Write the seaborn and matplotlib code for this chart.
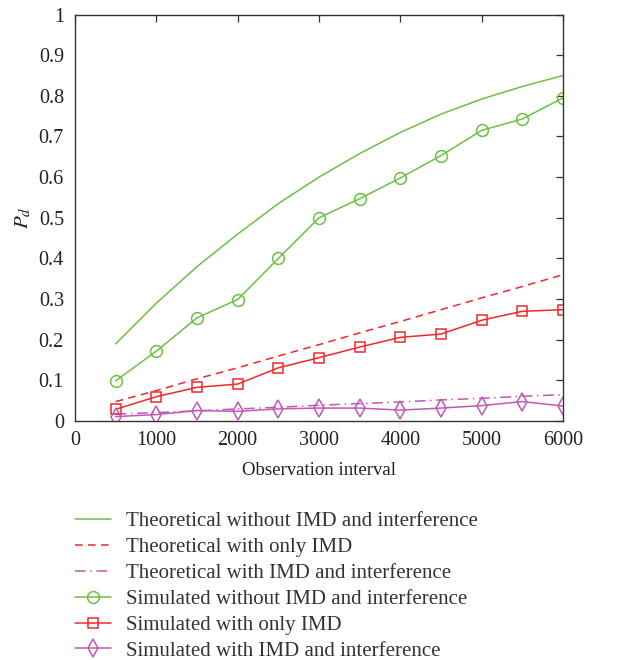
import matplotlib
matplotlib.use("Agg")
import matplotlib.pyplot as plt
import seaborn as sns
import numpy as np

sns.set_theme(style="white")
plt.rcParams["font.family"] = ["Liberation Serif", "DejaVu Serif"]
plt.rcParams["mathtext.fontset"] = "stix"

# Observation interval (x values)
interval = [500, 1000, 1500, 2000, 2500, 3000, 3500, 4000, 4500, 5000, 5500, 6000]

# Detection probability P_d for each case
theo_no_imd = [0.19, 0.29, 0.38, 0.46, 0.535, 0.60, 0.658, 0.71, 0.755, 0.792, 0.823, 0.85]
theo_only_imd = [0.048, 0.075, 0.104, 0.131, 0.16, 0.188, 0.217, 0.245, 0.274, 0.303, 0.331, 0.36]
theo_imd_interf = [0.017, 0.021, 0.025, 0.030, 0.034, 0.039, 0.043, 0.047, 0.052, 0.056, 0.061, 0.065]
sim_no_imd = [0.099, 0.172, 0.254, 0.299, 0.40, 0.50, 0.547, 0.598, 0.653, 0.715, 0.743, 0.795]
sim_only_imd = [0.029, 0.060, 0.083, 0.091, 0.131, 0.156, 0.182, 0.206, 0.214, 0.248, 0.270, 0.274]
sim_imd_interf = [0.011, 0.016, 0.026, 0.024, 0.030, 0.032, 0.032, 0.027, 0.032, 0.038, 0.048, 0.037]

labels = [
    "Theoretical without IMD and interference",
    "Theoretical with only IMD",
    "Theoretical with IMD and interference",
    "Simulated without IMD and interference",
    "Simulated with only IMD",
    "Simulated with IMD and interference",
]

green = "#6cc046"
red = "#f0282a"
purple = "#c059b4"

fig = plt.figure(figsize=(6.2, 6.6), dpi=100)
ax = fig.add_axes([0.121, 0.362, 0.787, 0.616])

lw = 1.1
sns.lineplot(x=interval, y=theo_no_imd, ax=ax, color=green, lw=lw, label=labels[0])
sns.lineplot(x=interval, y=theo_only_imd, ax=ax, color=red, lw=lw, label=labels[1],
             linestyle=(0, (5, 3.5)))
sns.lineplot(x=interval, y=theo_imd_interf, ax=ax, color=purple, lw=lw, label=labels[2],
             linestyle=(0, (7, 3, 1, 3)))
sns.lineplot(x=interval, y=sim_no_imd, ax=ax, color=green, lw=lw, label=labels[3],
             marker="o", markersize=8.5, markerfacecolor="none", markeredgecolor=green,
             markeredgewidth=1.1)
sns.lineplot(x=interval, y=sim_only_imd, ax=ax, color=red, lw=lw, label=labels[4],
             marker="s", markersize=7, markerfacecolor="none", markeredgecolor=red,
             markeredgewidth=1.1)
sns.lineplot(x=interval, y=sim_imd_interf, ax=ax, color=purple, lw=lw, label=labels[5],
             marker="d", markersize=9, markerfacecolor="none", markeredgecolor=purple,
             markeredgewidth=1.1)

ax.set_xlim(0, 6000)
ax.set_ylim(0, 1)
ax.set_xticks(np.arange(0, 6001, 1000))
ax.set_yticks(np.arange(0, 1.01, 0.1))
ax.set_yticklabels(["0"] + [f"{v:.1f}" for v in np.arange(0.1, 0.95, 0.1)] + ["1"])
ax.tick_params(direction="in", length=5, width=0.9, colors="#333333",
               top=True, right=True, labelsize=14.5, labelcolor="#222222", pad=8)
ax.tick_params(axis="x", pad=7)
for s in ax.spines.values():
    s.set_color("#333333")
    s.set_linewidth(1.0)

ax.set_xlabel("Observation interval", fontsize=13.5, color="#222222", labelpad=9)
ax.set_ylabel("$P_d$", fontsize=15, color="#222222", labelpad=4)

handles, lbls = ax.get_legend_handles_labels()
ax.get_legend().remove()
fig.legend(handles, lbls, loc="upper left", bbox_to_anchor=(0.108, 0.237),
           frameon=False, fontsize=15, handlelength=1.7, handletextpad=0.72,
           labelspacing=0.3, borderaxespad=0, labelcolor="#333333")

fig.savefig("out.png", dpi=100)
